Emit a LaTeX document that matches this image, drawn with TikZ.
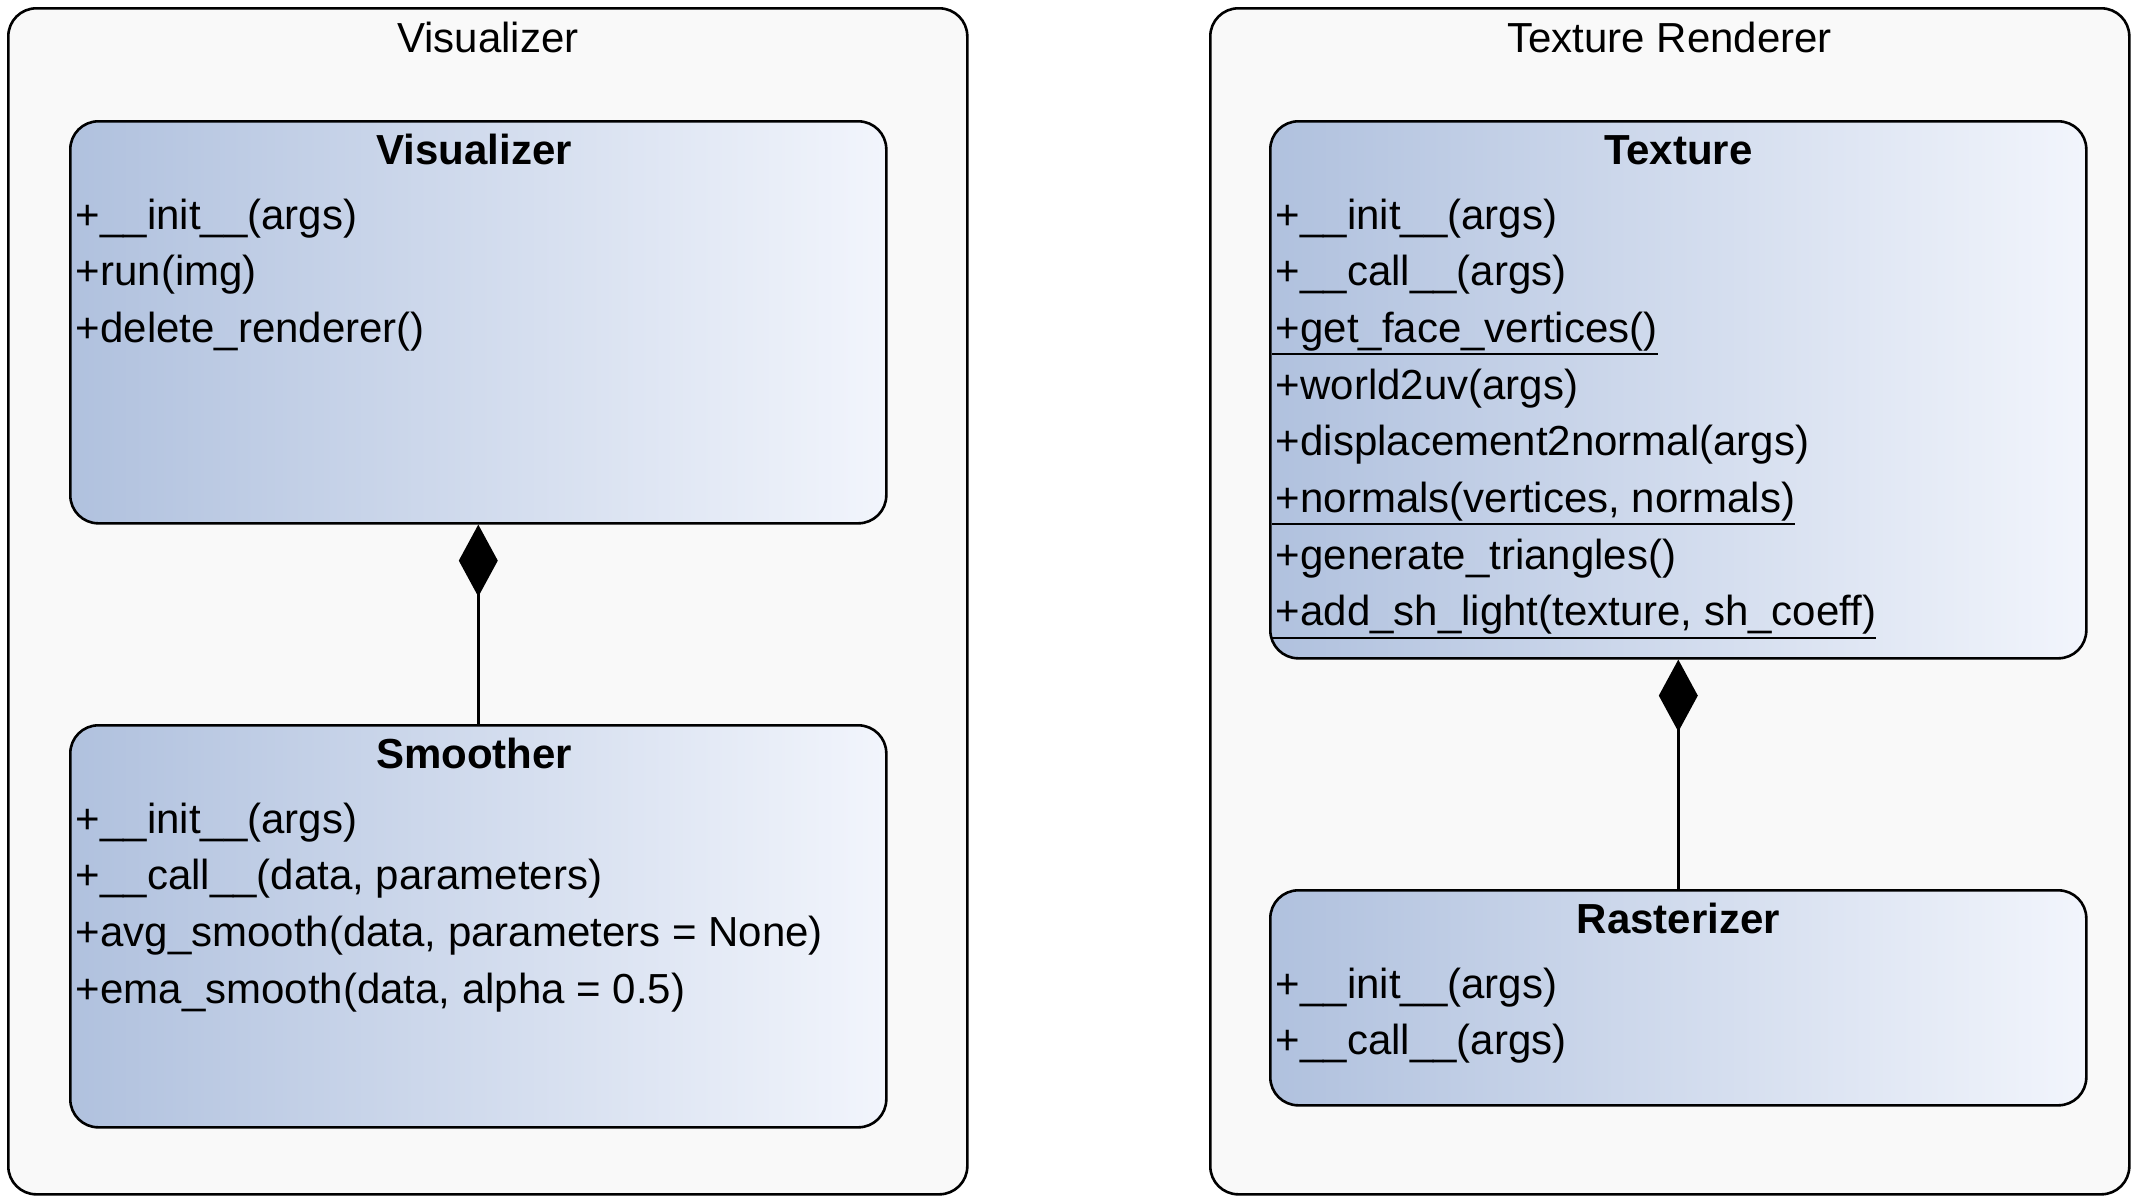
\documentclass[tikz,border=0pt]{standalone}
\usepackage{fontspec}
\setmainfont{Liberation Sans}
\usetikzlibrary{arrows.meta,calc}
\definecolor{pkgfill}{HTML}{F9F9F9}
\definecolor{clsleft}{HTML}{B0C1DE}
\definecolor{clsright}{HTML}{F2F5FC}
% static members are underlined
\newcommand{\staticop}[1]{\setbox0=\hbox{#1}\rlap{\kern-1pt\vrule width \dimexpr\wd0+1pt\relax height -2.7pt depth 3.2pt}\box0}

\begin{document}
\begin{tikzpicture}[x=0.25pt, y=-0.25pt,
    package/.style={draw, line width=0.65pt, fill=pkgfill, rounded corners=7pt, anchor=north west, inner sep=0pt},
    classbox/.style={draw, line width=0.65pt, left color=clsleft, right color=clsright, rounded corners=7pt, anchor=north west, inner sep=0pt, minimum width=204pt},
    pkgtitle/.style={anchor=base, font=\fontsize{10.5}{12}\selectfont},
    clstitle/.style={anchor=base, font=\fontsize{10.5}{12}\selectfont\bfseries},
    member/.style={anchor=base west, inner sep=0pt, font=\fontsize{10.5}{12}\selectfont},
    compose/.style={line width=0.6pt, -{Diamond[length=18pt, width=9.75pt]}}]

    \useasboundingbox (0,0) rectangle (2142,1203);

    % Visualizer package
    \node[package, minimum width=239.75pt, minimum height=296.5pt] (pkgvis) at (7,7) {};
    \node[pkgtitle] (pkgvis-title) at ($(pkgvis.north)+(0,45)$) {Visualizer};

    \node[classbox, minimum height=100.5pt] (visualizer) at (69,120) {};
    \node[clstitle] (visualizer-title) at ($(visualizer.north)+(-4,44)$) {Visualizer};
    \foreach \m [count=\i] in {+\_\_init\_\_(args), +run(img), +delete\_renderer()}
        \node[member] (visualizer-m\i) at ($(visualizer.north west)+(6,{109+56.7*(\i-1)})$) {\m};

    \node[classbox, minimum height=100.5pt] (smoother) at (69,724) {};
    \node[clstitle] (smoother-title) at ($(smoother.north)+(-4,44)$) {Smoother};
    \foreach \m [count=\i] in {+\_\_init\_\_(args), {+\_\_call\_\_(data, parameters)},
        {+avg\_smooth(data, parameters = None)}, {+ema\_smooth(data, alpha = 0.5)}}
        \node[member] (smoother-m\i) at ($(smoother.north west)+(6,{109+56.7*(\i-1)})$) {\m};

    \draw[compose] (smoother.north) -- (visualizer.south);

    % Texture Renderer package
    \node[package, minimum width=229.75pt, minimum height=296.5pt] (pkgtex) at (1209,7) {};
    \node[pkgtitle] (pkgtex-title) at ($(pkgtex.north)+(0,45)$) {Texture Renderer};

    \node[classbox, minimum height=134.25pt] (texture) at (1269,120) {};
    \node[clstitle] (texture-title) at ($(texture.north)+(0,44)$) {Texture};
    \foreach \m [count=\i] in {+\_\_init\_\_(args), +\_\_call\_\_(args),
        {\staticop{+get\_face\_vertices()}}, +world2uv(args), +displacement2normal(args),
        {\staticop{+normals(vertices, normals)}}, +generate\_triangles(),
        {\staticop{+add\_sh\_light(texture, sh\_coeff)}}}
        \node[member] (texture-m\i) at ($(texture.north west)+(6,{109+56.7*(\i-1)})$) {\m};

    \node[classbox, minimum height=53.75pt] (rasterizer) at (1269,889) {};
    \node[clstitle] (rasterizer-title) at ($(rasterizer.north)+(0,44)$) {Rasterizer};
    \foreach \m [count=\i] in {+\_\_init\_\_(args), +\_\_call\_\_(args)}
        \node[member] (rasterizer-m\i) at ($(rasterizer.north west)+(6,{109+56.7*(\i-1)})$) {\m};

    \draw[compose] (rasterizer.north) -- (texture.south);
\end{tikzpicture}
\end{document}
